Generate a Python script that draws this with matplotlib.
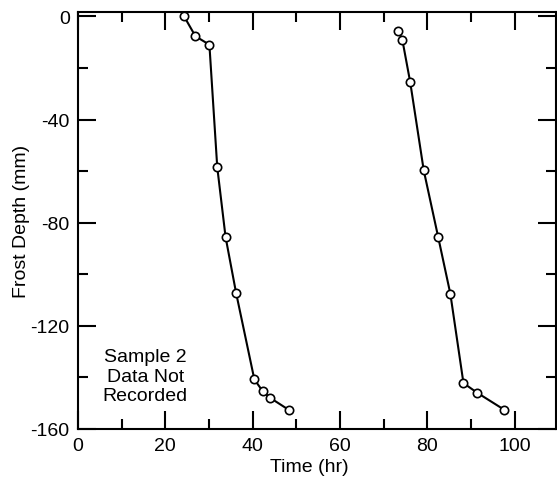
import matplotlib
matplotlib.use("Agg")
import matplotlib.pyplot as plt
from matplotlib.ticker import MultipleLocator

plt.rcParams['font.family'] = ['Liberation Sans', 'DejaVu Sans']

# first test series
time_a = [24.3, 26.9, 30.1, 31.9, 33.8, 36.2, 40.4, 42.3, 44.0, 48.3]
depth_a = [0.0, -7.7, -11.0, -58.5, -85.5, -107.1, -140.8, -145.3, -147.9, -152.6]

# second test series
time_b = [73.4, 74.3, 76.1, 79.2, 82.5, 85.3, 88.3, 91.4, 97.7]
depth_b = [-5.8, -9.1, -25.5, -59.7, -85.5, -107.6, -142.2, -145.9, -152.6]

note = "Sample 2\nData Not\nRecorded"


def main():
    fig = plt.figure(figsize=(5.57, 4.81), dpi=100)
    ax = fig.add_axes([78 / 557, 1 - 430 / 481, (556 - 78) / 557, (430 - 12.7) / 481])

    for t, d in [(time_a, depth_a), (time_b, depth_b)]:
        ax.plot(t, d, color='black', lw=1.5, marker='o', ms=6, mfc='white',
                mec='black', mew=1.2, zorder=3)

    ax.text(15.4, -139.5, note, ha='center', va='center', fontsize=14)

    ax.set_xlim(0, 109.5)
    ax.set_ylim(-160, 1.8)
    ax.xaxis.set_major_locator(MultipleLocator(20))
    ax.xaxis.set_minor_locator(MultipleLocator(10))
    ax.yaxis.set_minor_locator(MultipleLocator(20))
    ax.set_yticks([0, -40, -80, -120, -160])
    ax.set_yticklabels(['0', '-40', '-80', '-120', '-160'])

    ax.tick_params(which='both', direction='in', top=True, right=True, width=1.5, labelsize=14)
    ax.tick_params(which='major', length=13, pad=6)
    ax.tick_params(which='minor', length=7)
    for s in ax.spines.values():
        s.set_linewidth(1.5)

    ax.set_xlabel('Time (hr)', fontsize=14, va='center')
    ax.xaxis.set_label_coords(0.483, -0.0887)
    ax.set_ylabel('Frost Depth (mm)', fontsize=14, va='center')
    ax.yaxis.set_label_coords(-0.119, 0.5)

    fig.savefig('out.png', dpi=100)


if __name__ == '__main__':
    main()
